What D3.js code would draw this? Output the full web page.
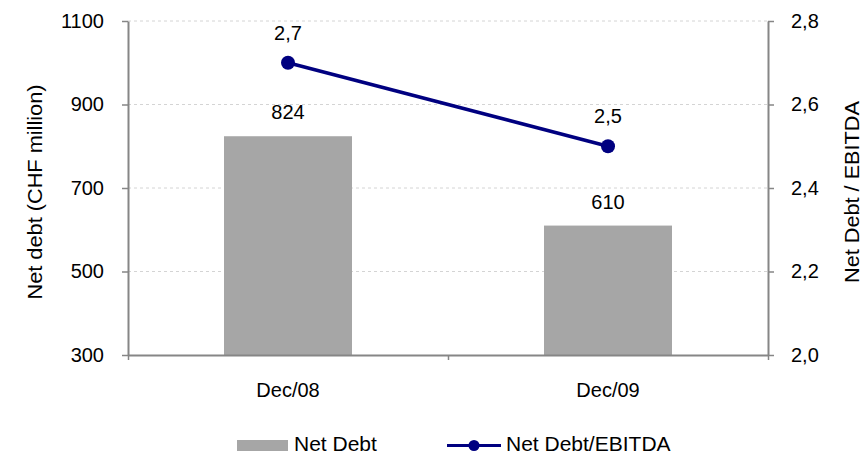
<!DOCTYPE html>
<html>
<head>
<meta charset="utf-8">
<script src="https://cdn.jsdelivr.net/npm/d3@7/dist/d3.min.js"></script>
<style>
  html, body { margin: 0; padding: 0; background: #fff; }
  svg { display: block; font-family: "Liberation Sans", Arial, sans-serif; }
</style>
</head>
<body>
<svg id="chart" width="863" height="454"></svg>
<script>
// Net debt (bars, left axis) and Net Debt / EBITDA ratio (line, right axis)
const categories = ["Dec/08", "Dec/09"];
const netDebt = [824, 610];
const debtToEbitda = [2.7, 2.5];
const leftTicks = [300, 500, 700, 900, 1100];
const rightTicks = [2.0, 2.2, 2.4, 2.6, 2.8];
const seriesNames = ["Net Debt", "Net Debt/EBITDA"];
const leftTitle = "Net debt (CHF million)";
const rightTitle = "Net Debt / EBITDA";

const svg = d3.select("#chart");
const plot = { left: 128, right: 768, top: 21, bottom: 355 };
const axisColor = "#868686";
const barColor = "#a6a6a6";
const lineColor = "#000080";
const comma = d => d.toFixed(1).replace(".", ",");

const x = d3.scaleBand()
  .domain(categories)
  .range([plot.left, plot.right])
  .paddingInner(0.6)
  .paddingOuter(0.3);
const xBoundary = d3.scaleLinear().domain([0, categories.length]).range([plot.left, plot.right]);
const yL = d3.scaleLinear().domain([300, 1100]).range([plot.bottom, plot.top]);
const yR = d3.scaleLinear().domain([2.0, 2.8]).range([plot.bottom, plot.top]);

// dashed gridlines
svg.append("g")
  .selectAll("line")
  .data(leftTicks.filter(t => t !== 300))
  .join("line")
  .attr("x1", plot.left).attr("x2", plot.right)
  .attr("y1", d => yL(d)).attr("y2", d => yL(d))
  .attr("stroke", "#d4d4d4").attr("stroke-width", 1)
  .attr("stroke-dasharray", "3,3");

// bars
svg.append("g")
  .selectAll("rect")
  .data(categories.map((c, i) => ({ c, v: netDebt[i] })))
  .join("rect")
  .attr("x", d => x(d.c))
  .attr("width", x.bandwidth())
  .attr("y", d => yL(d.v))
  .attr("height", d => yL(300) - yL(d.v))
  .attr("fill", barColor);

// left axis
const gL = svg.append("g")
  .attr("transform", `translate(${plot.left},0)`)
  .call(d3.axisLeft(yL).tickValues(leftTicks).tickFormat(d3.format("d")).tickSize(6).tickPadding(18).tickSizeOuter(0));
// right axis
const gR = svg.append("g")
  .attr("transform", `translate(${plot.right},0)`)
  .call(d3.axisRight(yR).tickValues(rightTicks).tickFormat(comma).tickSize(6).tickPadding(17).tickSizeOuter(0));
// bottom axis with ticks between categories
const gB = svg.append("g")
  .attr("transform", `translate(0,${plot.bottom})`)
  .call(d3.axisBottom(xBoundary).tickValues(d3.range(categories.length + 1)).tickFormat("").tickSize(5).tickSizeOuter(0));

[gL, gR, gB].forEach(g => {
  g.select(".domain").attr("stroke", axisColor).attr("stroke-width", 2);
  g.selectAll(".tick line").attr("stroke", axisColor).attr("stroke-width", 1.5);
  g.selectAll(".tick text").attr("fill", "#000").attr("font-size", 20)
    .attr("font-family", "Liberation Sans, Arial, sans-serif");
});

// category labels
svg.append("g")
  .selectAll("text")
  .data(categories)
  .join("text")
  .attr("x", d => x(d) + x.bandwidth() / 2)
  .attr("y", 397)
  .attr("text-anchor", "middle")
  .attr("font-size", 20)
  .text(d => d);

// bar value labels
svg.append("g")
  .selectAll("text")
  .data(categories.map((c, i) => ({ c, v: netDebt[i] })))
  .join("text")
  .attr("x", d => x(d.c) + x.bandwidth() / 2)
  .attr("y", d => yL(d.v) - 17)
  .attr("text-anchor", "middle")
  .attr("font-size", 20)
  .text(d => d.v);

// ratio line
const pts = categories.map((c, i) => ({ c, v: debtToEbitda[i] }));
const cx = d => x(d.c) + x.bandwidth() / 2;
svg.append("path")
  .datum(pts)
  .attr("fill", "none")
  .attr("stroke", lineColor)
  .attr("stroke-width", 3.5)
  .attr("d", d3.line().x(cx).y(d => yR(d.v)));
svg.append("g")
  .selectAll("circle")
  .data(pts)
  .join("circle")
  .attr("cx", cx)
  .attr("cy", d => yR(d.v))
  .attr("r", 7)
  .attr("fill", lineColor);
svg.append("g")
  .selectAll("text")
  .data(pts)
  .join("text")
  .attr("x", cx)
  .attr("y", d => yR(d.v) - 23)
  .attr("text-anchor", "middle")
  .attr("font-size", 20)
  .text(d => comma(d.v));

// axis titles
svg.append("text")
  .attr("transform", "translate(42,192) rotate(-90)")
  .attr("text-anchor", "middle")
  .attr("font-size", 21)
  .attr("textLength", 215)
  .attr("lengthAdjust", "spacingAndGlyphs")
  .text(leftTitle);
svg.append("text")
  .attr("transform", "translate(859,192) rotate(-90)")
  .attr("text-anchor", "middle")
  .attr("font-size", 21)
  .attr("textLength", 182)
  .attr("lengthAdjust", "spacingAndGlyphs")
  .text(rightTitle);

// legend
const lg = svg.append("g");
lg.append("rect").attr("x", 237).attr("y", 440).attr("width", 51).attr("height", 11).attr("fill", barColor);
lg.append("text").attr("x", 294).attr("y", 451).attr("font-size", 21).text(seriesNames[0]);
lg.append("line").attr("x1", 447).attr("x2", 501).attr("y1", 445.5).attr("y2", 445.5)
  .attr("stroke", lineColor).attr("stroke-width", 3);
lg.append("circle").attr("cx", 474).attr("cy", 445.5).attr("r", 5.5).attr("fill", lineColor);
lg.append("text").attr("x", 506).attr("y", 451).attr("font-size", 21).text(seriesNames[1]);
</script>
</body>
</html>
